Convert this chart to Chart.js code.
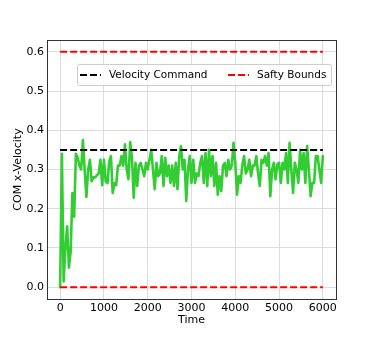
<!DOCTYPE html>
<html>
<head>
<meta charset="utf-8">
<script src="https://cdn.jsdelivr.net/npm/chart.js@4.4.1/dist/chart.umd.min.js"></script>
<style>
  html, body { margin: 0; padding: 0; background: #fff; }
  #chart { display: block; }
</style>
</head>
<body>
<canvas id="chart" width="374" height="343"></canvas>
<script>
// COM x-velocity samples, evenly spaced from t=0 to t=6000
const velocity = [
    0.0, 0.34, 0.015, 0.10, 0.155, 0.05, 0.09, 0.24, 0.18, 0.34,
    0.33, 0.31, 0.30, 0.375, 0.30, 0.23, 0.30, 0.325, 0.27, 0.28,
    0.28, 0.285, 0.29, 0.325, 0.26, 0.325, 0.27, 0.265, 0.32, 0.334,
    0.24, 0.265, 0.26, 0.31, 0.31, 0.334, 0.31, 0.364, 0.30, 0.275,
    0.37, 0.33, 0.228, 0.317, 0.258, 0.31, 0.317, 0.30, 0.283, 0.317,
    0.30, 0.325, 0.35, 0.30, 0.25, 0.317, 0.283, 0.29, 0.334, 0.258,
    0.33, 0.283, 0.31, 0.266, 0.31, 0.258, 0.317, 0.25, 0.334, 0.36,
    0.30, 0.325, 0.22, 0.30, 0.334, 0.266, 0.325, 0.266, 0.29, 0.283,
    0.317, 0.334, 0.266, 0.342, 0.258, 0.35, 0.283, 0.334, 0.258, 0.317,
    0.236, 0.283, 0.245, 0.31, 0.317, 0.283, 0.325, 0.30, 0.31, 0.368,
    0.317, 0.236, 0.283, 0.266, 0.31, 0.334, 0.29, 0.30, 0.325, 0.283,
    0.31, 0.31, 0.334, 0.29, 0.258, 0.325, 0.317, 0.334, 0.31, 0.342,
    0.232, 0.30, 0.317, 0.275, 0.313, 0.317, 0.266, 0.317, 0.30, 0.342,
    0.266, 0.368, 0.30, 0.24, 0.317, 0.30, 0.266, 0.35, 0.30, 0.342,
    0.266, 0.36, 0.30, 0.232, 0.266, 0.266, 0.334, 0.334, 0.30, 0.266,
    0.334
];
const timeEnd = 6000;
const commandLevel = 0.35;
const boundLevels = [0.0, 0.6];
const seriesNames = ['Velocity Command', 'Safty Bounds'];
const xTicks = [0, 1000, 2000, 3000, 4000, 5000, 6000];
const yTicks = [0.0, 0.1, 0.2, 0.3, 0.4, 0.5, 0.6];

const FONT = 'DejaVu Sans';
const GREEN = '#32cd32';

const velocityPoints = velocity.map((v, i) => ({
    x: i * timeEnd / (velocity.length - 1),
    y: v
}));
const flatLine = (level) => [{ x: 0, y: level }, { x: timeEnd, y: level }];

const dashed = (label, color, level) => ({
    label,
    data: flatLine(level),
    borderColor: color,
    borderWidth: 2,
    borderDash: [7, 3],
    pointRadius: 0,
    fill: false
});

// frame around the plot plus the in-plot legend
const framePlugin = {
    id: 'frame',
    afterDraw(chart) {
        const { ctx, chartArea: a } = chart;
        ctx.save();
        ctx.strokeStyle = '#333';
        ctx.lineWidth = 1;
        ctx.strokeRect(Math.round(a.left) + 0.5, Math.round(a.top) + 0.5,
            Math.round(a.right - a.left), Math.round(a.bottom - a.top));

        // legend box
        const bx = 77, by = 64, bw = 254, bh = 21;
        ctx.fillStyle = 'rgba(255,255,255,0.8)';
        ctx.strokeStyle = '#cccccc';
        ctx.beginPath();
        ctx.roundRect(bx + 0.5, by + 0.5, bw, bh, 2);
        ctx.fill();
        ctx.stroke();

        const items = [
            { color: '#000000', x: 80, text: seriesNames[0] },
            { color: '#ff0000', x: 228, text: seriesNames[1] }
        ];
        const ly = by + bh / 2 + 0.5;
        ctx.font = '10.5px "' + FONT + '"';
        ctx.textBaseline = 'middle';
        items.forEach((it) => {
            ctx.strokeStyle = it.color;
            ctx.lineWidth = 2;
            ctx.setLineDash([7, 3]);
            ctx.beginPath();
            ctx.moveTo(it.x, ly);
            ctx.lineTo(it.x + 21, ly);
            ctx.stroke();
            ctx.setLineDash([]);
            ctx.fillStyle = '#000';
            ctx.fillText(it.text, it.x + 29, ly);
        });
        ctx.restore();
    }
};

new Chart(document.getElementById('chart'), {
    type: 'line',
    data: {
        datasets: [
            dashed(seriesNames[0], '#000000', commandLevel),
            dashed(seriesNames[1], '#ff0000', boundLevels[0]),
            dashed(seriesNames[1], '#ff0000', boundLevels[1]),
            {
                label: 'COM x-Velocity',
                data: velocityPoints,
                borderColor: GREEN,
                borderWidth: 2.6,
                borderJoinStyle: 'round',
                borderCapStyle: 'round',
                pointRadius: 0,
                tension: 0,
                fill: false
            }
        ]
    },
    options: {
        responsive: false,
        animation: false,
        layout: { padding: { left: 0, right: 38, top: 40, bottom: 0 } },
        plugins: {
            legend: { display: false },
            tooltip: { enabled: false }
        },
        scales: {
            x: {
                type: 'linear',
                min: -300,
                max: 6300,
                afterBuildTicks: (scale) => {
                    scale.ticks = xTicks.map((v) => ({ value: v }));
                },
                afterFit: (scale) => { scale.height = 44; },
                grid: { color: '#dcdcdc', drawTicks: false },
                border: { display: false },
                ticks: {
                    color: '#000',
                    font: { family: FONT, size: 11 },
                    padding: 3,
                    maxRotation: 0,
                    callback: (v) => String(v)
                },
                title: {
                    display: true,
                    text: 'Time',
                    color: '#000',
                    font: { family: FONT, size: 11 },
                    padding: { top: 0, bottom: 16 }
                }
            },
            y: {
                type: 'linear',
                min: -0.03,
                max: 0.63,
                afterBuildTicks: (scale) => {
                    scale.ticks = yTicks.map((v) => ({ value: v }));
                },
                afterFit: (scale) => { scale.width = 47; },
                grid: { color: '#dcdcdc', drawTicks: false },
                border: { display: false },
                ticks: {
                    color: '#000',
                    font: { family: FONT, size: 11 },
                    padding: 3,
                    callback: (v) => v.toFixed(1)
                },
                title: {
                    display: true,
                    text: 'COM x-Velocity',
                    color: '#000',
                    font: { family: FONT, size: 11 },
                    padding: { top: 12, bottom: 0 }
                }
            }
        }
    },
    plugins: [framePlugin]
});
</script>
</body>
</html>
